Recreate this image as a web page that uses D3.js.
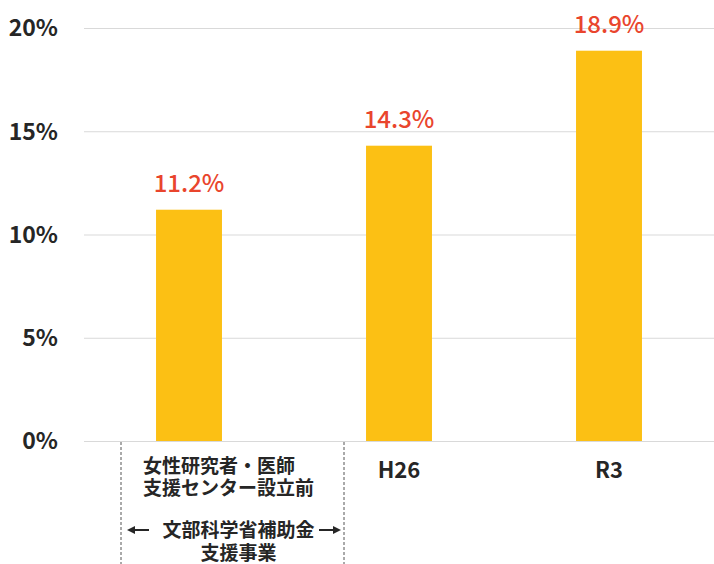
<!DOCTYPE html>
<html>
<head>
<meta charset="utf-8">
<script src="https://cdn.jsdelivr.net/npm/d3@7"></script>
<style>
  body { margin: 0; background: #fff; }
  text { font-family: "Noto Sans CJK JP", "Noto Sans", sans-serif; }
</style>
</head>
<body>
<div id="chart"></div>
<script>
// Data
const categories = ["before", "H26", "R3"];
const values = [11.2, 14.3, 18.9];
const yTicks = [0, 5, 10, 15, 20];
const firstLabelLines = ["女性研究者・医師", "支援センター設立前"];
const spanLabelLines = ["文部科学省補助金", "支援事業"];

const margin = { top: 28, right: 0, bottom: 123, left: 84 };
const width = 714 - margin.left - margin.right;
const height = 564 - margin.top - margin.bottom;

const svg = d3.select("#chart")
    .append("svg")
    .attr("width", width + margin.left + margin.right)
    .attr("height", height + margin.top + margin.bottom)
    .append("g")
    .attr("transform", `translate(${margin.left},${margin.top})`);

// Scales
const x = d3.scaleBand()
    .domain(categories)
    .range([0, width])
    .padding(0);

const y = d3.scaleLinear()
    .domain([0, 20])
    .range([height, 0]);

const barWidth = x.bandwidth() * 0.314;

// Gridlines
svg.append("g")
    .selectAll("line")
    .data(yTicks)
    .join("line")
    .attr("x1", 0)
    .attr("x2", width)
    .attr("y1", d => y(d) + 0.5)
    .attr("y2", d => y(d) + 0.5)
    .attr("stroke", "#d9d9d9")
    .attr("stroke-width", 1);

// Y tick labels
svg.append("g")
    .selectAll("text")
    .data(yTicks)
    .join("text")
    .attr("x", -26)
    .attr("y", d => y(d))
    .attr("dy", "0.36em")
    .attr("text-anchor", "end")
    .attr("fill", "#262626")
    .style("font-size", "23px")
    .style("font-weight", "700")
    .text(d => d + "%");

// Bars
svg.selectAll(".bar")
    .data(values)
    .join("rect")
    .attr("x", (d, i) => x(categories[i]) + x.bandwidth() / 2 - barWidth / 2)
    .attr("y", d => y(d))
    .attr("width", barWidth)
    .attr("height", d => height - y(d))
    .attr("fill", "#FCC014");

// Value labels
svg.selectAll(".val")
    .data(values)
    .join("text")
    .attr("x", (d, i) => x(categories[i]) + x.bandwidth() / 2)
    .attr("y", d => y(d) - 18)
    .attr("text-anchor", "middle")
    .attr("fill", "#E9452D")
    .style("font-size", "24px")
    .style("font-weight", "500")
    .text(d => d.toFixed(1) + "%");

// Category labels (H26, R3)
svg.selectAll(".cat")
    .data(categories.slice(1))
    .join("text")
    .attr("x", d => x(d) + x.bandwidth() / 2)
    .attr("y", height + 37)
    .attr("text-anchor", "middle")
    .attr("fill", "#262626")
    .style("font-size", "22px")
    .style("font-weight", "700")
    .text(d => d);

// First category: multi-line label
const c0 = x(categories[0]) + x.bandwidth() / 2;
const first = svg.append("text")
    .attr("x", c0 - 46)
    .attr("y", height + 32)
    .attr("fill", "#262626")
    .style("font-size", "19px")
    .style("font-weight", "700");
firstLabelLines.forEach((t, i) => {
    first.append("tspan")
        .attr("x", c0 - 46)
        .attr("dy", i === 0 ? 0 : 22)
        .text(t);
});

// Dashed span markers
const spanLeft = c0 - 68;
const spanRight = c0 + 155;
svg.selectAll(".span")
    .data([spanLeft, spanRight])
    .join("line")
    .attr("x1", d => d)
    .attr("x2", d => d)
    .attr("y1", height + 1)
    .attr("y2", height + margin.bottom)
    .attr("stroke", "#555")
    .attr("stroke-width", 1)
    .attr("stroke-dasharray", "3,2");

// Span label
const spanMid = (spanLeft + spanRight) / 2 + 6;
const spanText = svg.append("text")
    .attr("x", spanMid)
    .attr("y", height + 96)
    .attr("text-anchor", "middle")
    .attr("fill", "#262626")
    .style("font-size", "19px")
    .style("font-weight", "700");
spanLabelLines.forEach((t, i) => {
    spanText.append("tspan")
        .attr("x", spanMid)
        .attr("dy", i === 0 ? 0 : 23)
        .text(t);
});

// Arrows
const arrowY = height + 89;
const arrows = [
    { x1: spanLeft + 28, x2: spanLeft + 6 },
    { x1: spanRight - 25, x2: spanRight - 3 }
];
arrows.forEach(a => {
    const dir = Math.sign(a.x2 - a.x1);
    svg.append("line")
        .attr("x1", a.x1)
        .attr("x2", a.x2 - dir * 4)
        .attr("y1", arrowY)
        .attr("y2", arrowY)
        .attr("stroke", "#262626")
        .attr("stroke-width", 2);
    svg.append("path")
        .attr("d", `M${a.x2},${arrowY} L${a.x2 - dir * 8},${arrowY - 4} L${a.x2 - dir * 8},${arrowY + 4} Z`)
        .attr("fill", "#262626");
});
</script>
</body>
</html>
